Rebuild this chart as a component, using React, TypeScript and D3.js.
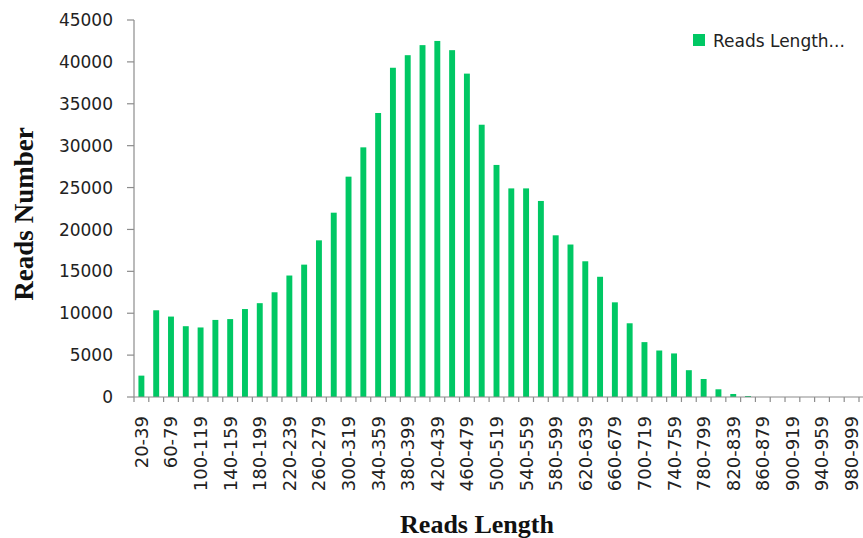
import React from "react";
import * as d3 from "d3";

const categories: string[] = [
  "20-39", "40-59", "60-79", "80-99", "100-119", "120-139", "140-159", "160-179",
  "180-199", "200-219", "220-239", "240-259", "260-279", "280-299", "300-319", "320-339",
  "340-359", "360-379", "380-399", "400-419", "420-439", "440-459", "460-479", "480-499",
  "500-519", "520-539", "540-559", "560-579", "580-599", "600-619", "620-639", "640-659",
  "660-679", "680-699", "700-719", "720-739", "740-759", "760-779", "780-799", "800-819",
  "820-839", "840-859", "860-879", "880-899", "900-919", "920-939", "940-959", "960-979",
  "980-999",
];

const readsCount: number[] = [
  2550, 10350, 9600, 8450, 8300, 9200, 9300, 10500,
  11200, 12500, 14500, 15800, 18700, 22000, 26300, 29800,
  33900, 39300, 40800, 42000, 42500, 41400, 38600, 32500,
  27700, 24900, 24900, 23400, 19300, 18200, 16200, 14350,
  11300, 8800, 6550, 5550, 5200, 3200, 2150, 920,
  360, 120, 0, 0, 0, 0, 0, 0,
  0,
];

const yTicks: number[] = [0, 5000, 10000, 15000, 20000, 25000, 30000, 35000, 40000, 45000];
const seriesName = "Reads Length...";
const xTitle = "Reads Length";
const yTitle = "Reads Number";

const W = 863;
const H = 538;
const left = 134;
const right = 859;
const top = 20;
const bottom = 397;
const green = "#00c864";
const axisColor = "#8c8c8c";
const sans = "'DejaVu Sans', sans-serif";
const serif = "'Liberation Serif', 'Times New Roman', serif";

export default function App() {
  const x = d3.scaleBand<string>().domain(categories).range([left, right]).paddingInner(0.6).paddingOuter(0.3);
  const xb = d3.scaleLinear().domain([0, categories.length]).range([left, right]);
  const y = d3.scaleLinear().domain([0, 45000]).range([bottom, top]);

  return (
    <svg width={W} height={H} style={{ position: "absolute", left: 0, top: 0, background: "#fff" }}>
      {/* bars */}
      {categories.map((c, i) => (
        <rect key={c} x={x(c)} y={y(readsCount[i])} width={x.bandwidth()} height={bottom - y(readsCount[i])} fill={green} />
      ))}
      {/* y axis */}
      <line x1={left} x2={left} y1={top} y2={bottom} stroke={axisColor} strokeWidth={1.2} />
      {yTicks.map((t) => (
        <g key={t}>
          <line x1={left - 7} x2={left} y1={y(t)} y2={y(t)} stroke={axisColor} strokeWidth={1.2} />
          <text x={113} y={y(t)} dy="0.36em" textAnchor="end" fontFamily={sans} fontSize={17} fill="#222">
            {t}
          </text>
        </g>
      ))}
      {/* x axis */}
      <line x1={left} x2={W} y1={bottom} y2={bottom} stroke={axisColor} strokeWidth={1.2} />
      {d3.range(categories.length + 1).map((i) => (
        <line key={i} x1={xb(i)} x2={xb(i)} y1={bottom} y2={bottom + 5} stroke={axisColor} strokeWidth={1.2} />
      ))}
      {categories.map((c, i) =>
        i % 2 === 0 ? (
          <text
            key={c}
            transform={`translate(${(x(c) as number) + x.bandwidth() / 2},${416}) rotate(-90)`}
            dy="0.36em"
            textAnchor="end"
            fontFamily={sans}
            fontSize={18}
            fill="#222"
          >
            {c}
          </text>
        ) : null
      )}
      {/* axis titles */}
      <text x={477} y={533} textAnchor="middle" fontFamily={serif} fontWeight="bold" fontSize={26} fill="#111">
        {xTitle}
      </text>
      <text transform={`translate(33,214) rotate(-90)`} textAnchor="middle" fontFamily={serif} fontWeight="bold" fontSize={27} fill="#111">
        {yTitle}
      </text>
      {/* legend */}
      <rect x={693} y={34} width={12} height={12} fill={green} />
      <text x={713} y={47} fontFamily={sans} fontSize={17} fill="#222">
        {seriesName}
      </text>
    </svg>
  );
}
